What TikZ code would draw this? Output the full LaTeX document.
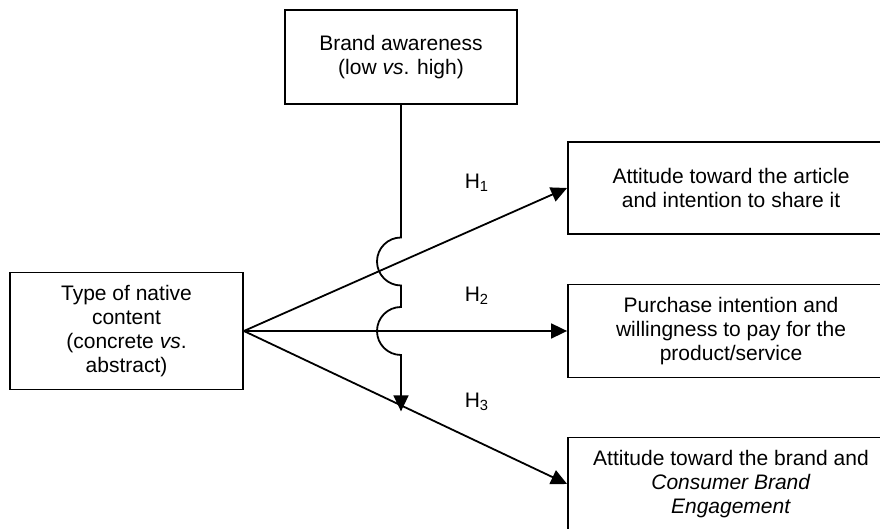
\documentclass[tikz,border=0pt]{standalone}
\usepackage{fontspec}
\setmainfont{Liberation Sans}
\usepackage{tikz}
\usetikzlibrary{calc,intersections}
\usetikzlibrary{arrows.meta,positioning}

\tikzset{
  box/.style={draw,line width=0.9pt,align=center,inner sep=2pt,
    font=\fontsize{10.5}{12}\selectfont},
  link/.style={line width=0.9pt,-{Triangle[length=8pt,width=7.5pt]}},
  hyp/.style={font=\fontsize{10.5}{12}\selectfont}
}

\begin{document}
\begin{tikzpicture}[x=0.5pt,y=-0.5pt]
  \useasboundingbox (0,0) rectangle (880,529);
  \node (brand) [box,minimum width=116pt,minimum height=47pt] at (401,57)
    {Brand awareness\\(low \textit{vs}. high)};
  \node (content) [box,minimum width=116.5pt,minimum height=58.5pt] at (126.5,331)
    {Type of native\\content\\(concrete \textit{vs}.\\abstract)};
  \node (article) [box,minimum width=163pt,minimum height=46pt] at (731,188)
    {Attitude toward the article\\and intention to share it};
  \node (purchase) [box,minimum width=163pt,minimum height=46.5pt] at (731,331)
    {Purchase intention and\\willingness to pay for the\\product/service};
  \node (engage) [box,minimum width=163pt,minimum height=46.5pt] at (731,484)
    {Attitude toward the brand and\\\textit{Consumer Brand}\\\textit{Engagement}};
  \draw [link,name path=h1] (content.east) -- (article.west);
  \draw [link,name path=h2] (content.east) -- (purchase.west);
  \draw [link,name path=h3] (content.east) -- (engage.west);
  \node (t1) [hyp] at (477,183) {H\textsubscript{1}};
  \node (t2) [hyp] at (477,296) {H\textsubscript{2}};
  \node (t3) [hyp] at (477,402) {H\textsubscript{3}};
  % moderator line jumps over H1 and H2
  \path [name path=vline] (brand.south) -- ++(0,400);
  \path [name intersections={of=vline and h1,by=c1}];
  \path [name intersections={of=vline and h2,by=c2}];
  \path [name intersections={of=vline and h3,by=c3}];
  \draw [link] (brand.south) -- ($(c1)+(0,12pt)$)
    arc [start angle=90,end angle=270,radius=12pt]
    -- ($(c2)+(0,12pt)$)
    arc [start angle=90,end angle=270,radius=12pt]
    -- ($(c3)+(0,-3pt)$);
\end{tikzpicture}
\end{document}
